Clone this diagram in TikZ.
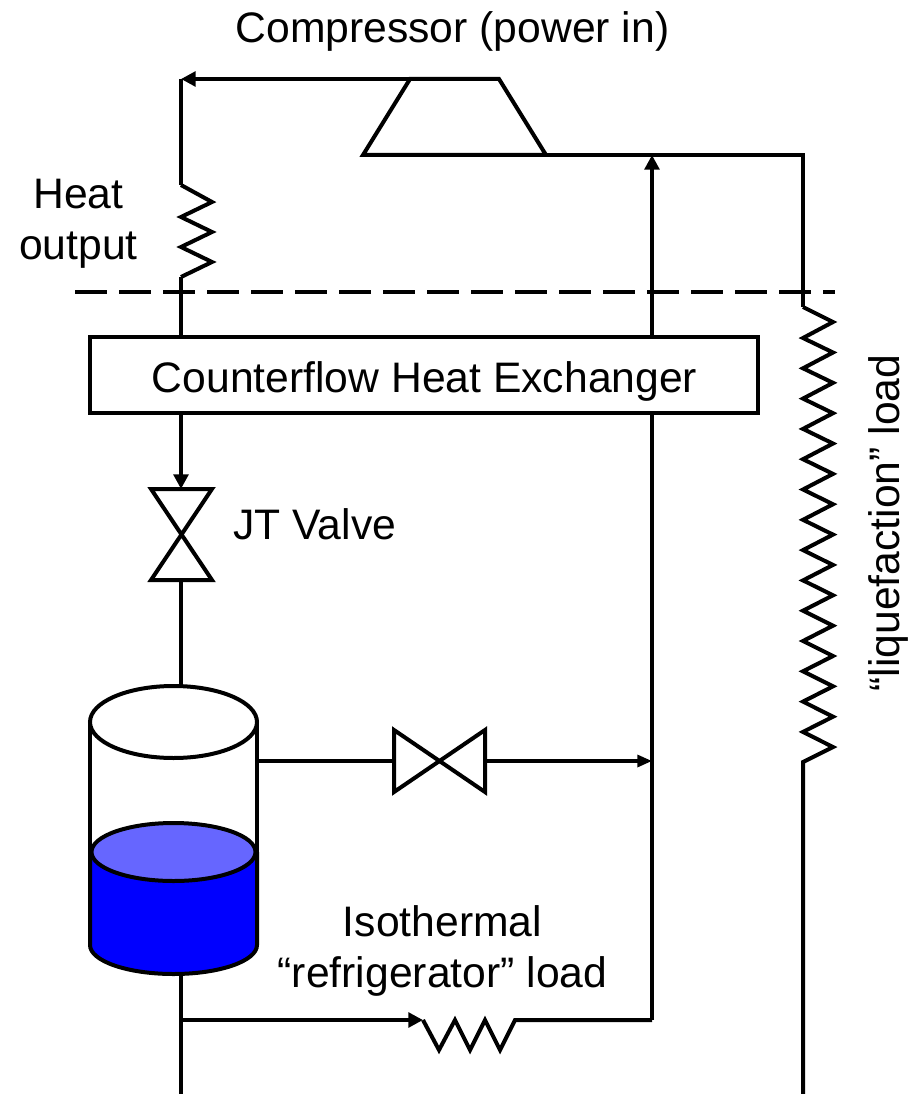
\documentclass[tikz,border=0pt]{standalone}
\usepackage{fontspec}
\setmainfont{Liberation Sans}
\usetikzlibrary{arrows.meta}
\tikzset{
  pipe/.style={line width=3pt,line join=miter,black},
  thin pipe/.style={line width=2.4pt,black},
  flow/.style={pipe,-{Triangle[length=11pt,width=11pt]}},
  thin flow/.style={thin pipe,-{Triangle[length=11pt,width=9pt]}},
  label/.style={font=\fontsize{32pt}{38.25pt}\selectfont,inner sep=0pt,align=center,text=black},
  box/.style={pipe,fill=white,draw},
}
\begin{document}
\begin{tikzpicture}[x=0.75pt,y=-0.75pt]
\useasboundingbox (0,0) rectangle (910,1094);
% coordinates
\coordinate (cL) at (181,79);
\coordinate (cTR) at (499,79);
\coordinate (cTL) at (410,79);
\coordinate (cBL) at (363,155);
\coordinate (cBR) at (546,155);
\coordinate (retTop) at (803,155);
\coordinate (retIn) at (652,155);
\coordinate (hotA) at (181,185);
\coordinate (hotB) at (181,277);
\coordinate (hxHot) at (181,337);
\coordinate (hxOut) at (181,413);
\coordinate (jtTop) at (181,489);
\coordinate (jtBot) at (181,580);
\coordinate (tankTop) at (181,686);
\coordinate (tankBot) at (181,974);
\coordinate (tankSide) at (257,761);
\coordinate (vL) at (394,761);
\coordinate (vR) at (485,761);
\coordinate (mid) at (652,761);
\coordinate (botTee) at (181,1020);
\coordinate (botEnd) at (181,1094);
\coordinate (refA) at (423,1020);
\coordinate (refB) at (515,1020);
\coordinate (refC) at (652,1020);
\coordinate (liqA) at (803,307);
\coordinate (liqB) at (803,762);
\coordinate (liqEnd) at (803,1094);
\coordinate (dashA) at (75,292);
\coordinate (dashB) at (835,292);
% return lines (behind the exchanger)
\draw[pipe] (cBR) -- (retTop) -- (liqA);
\draw[flow] (refC) -- (retIn);
\draw[pipe] (hxHot) -- (hotB);
% heat output resistor
\draw[pipe] (hotA) -- (212,202) -- (181,217) -- (212,232) -- (181,247) -- (212,262) -- (hotB);
\draw[pipe] (hotA) -- (cL);
\draw[flow] (cTR) -- (cL);
% compressor
\draw[box,line join=miter] (cTL) -- (cTR) -- (cBR) -- (cBL) -- cycle;
% dashed boundary
\draw[line width=3pt,dash pattern=on 24pt off 9pt] (dashA) -- (dashB);
% liquefaction resistor
\draw[pipe] (liqA) -- (833,322)
 \foreach \k in {0,...,13} { -- (803,{338+\k*30.3}) -- (833,{352.5+\k*30.35}) } -- (liqB) -- (liqEnd);
% heat exchanger
\node[box,minimum width=501pt,minimum height=57pt,inner sep=0pt,outer sep=0pt,anchor=north west,draw] (hx) at (90,337) {};
\node[label,anchor=base] (hxt) at (424.5,392) {Counterflow Heat Exchanger};
% JT valve
\draw[flow] (hxOut) -- (jtTop);
\draw[pipe] (jtTop) -- (151,489) -- (212,580) -- (151,580) -- (212,489) -- cycle;
\draw[pipe] (jtBot) -- (tankTop);
% side valve
\draw[thin pipe] (tankSide) -- (vL);
\draw[pipe] (394,730) -- (394,792) -- (485,730) -- (485,792) -- cycle;
\draw[thin flow] (vR) -- (mid);
% bottom line
\draw[pipe] (tankBot) -- (botEnd);
\draw[flow] (botTee) -- (refA);
\draw[pipe] (refA) -- (439,1050) -- (455,1020) -- (470,1050) -- (485,1020) -- (500,1050) -- (refB) -- (refC);
% tank
\fill[blue] (90,852) -- (90,945) arc[start angle=180,end angle=0,x radius=83.5,y radius=29] -- (257,852) -- cycle;
\draw[thin pipe] (90,722) -- (90,852);
\draw[thin pipe] (257,722) -- (257,852);
\draw[pipe] (90,852) -- (90,945) arc[start angle=180,end angle=0,x radius=83.5,y radius=29] -- (257,852);
\draw[pipe,fill=white] (173.5,722) ellipse[x radius=83.5,y radius=36];
\draw[pipe,fill={rgb,255:red,102;green,102;blue,255}] (173.5,852) ellipse[x radius=82,y radius=29];
% labels
\node[label,anchor=base] (tcomp) at (452.5,42.5) {Compressor (power in)};
\node[label] (theat) at (78.5,224) {Heat\\output};
\node[label,anchor=base west] (tjt) at (233,539.5) {JT Valve};
\node[label] (tiso) at (442.5,951) {Isothermal\\“refrigerator” load};
\node[label,rotate=90,anchor=base] (tliq) at (899,523) {“liquefaction” load};
\end{tikzpicture}
\end{document}
